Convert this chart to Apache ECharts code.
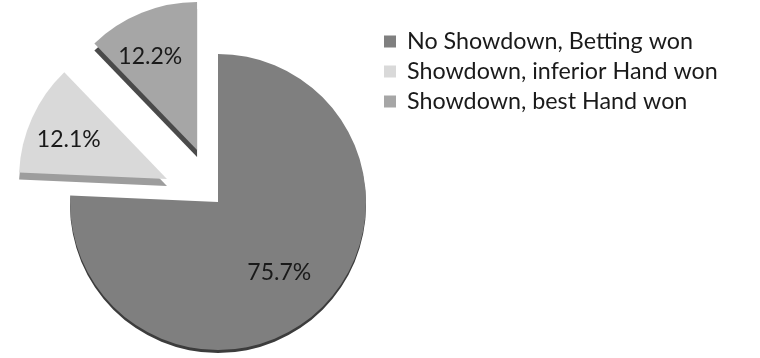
<!DOCTYPE html>
<html>
<head>
<meta charset="utf-8">
<script src="https://cdn.jsdelivr.net/npm/echarts@6/dist/echarts.min.js"></script>
<style>
  html, body { margin: 0; padding: 0; background: #ffffff; }
  #chart { width: 760px; height: 358px; }
</style>
</head>
<body>
<div id="chart"></div>
<script>
// Hand outcomes (share of pots, %)
const categories = ['No Showdown, Betting won', 'Showdown, inferior Hand won', 'Showdown, best Hand won'];
const shares = [75.7, 12.1, 12.2];
const exploded = [false, true, true];

const sliceColors = ['#7f7f7f', '#d9d9d9', '#a6a6a6'];
const sideColors = ['#3c3c3c', '#9d9d9d', '#4a4a4a'];
const sideDepth = [3, 7, 7];
// nudges that move each percentage label outward from the default mid-radius spot
const labelNudge = [[8, 15], [-28, -8], [-18, -22]];

const FONT = 'Lato, "Open Sans", sans-serif';

const chart = echarts.init(document.getElementById('chart'), null, { renderer: 'canvas' });

chart.setOption({
  animation: false,
  backgroundColor: '#ffffff',
  legend: {
    orient: 'vertical',
    left: 379,
    top: 25,
    itemWidth: 12,
    itemHeight: 12,
    itemGap: 7,
    icon: 'rect',
    selectedMode: false,
    textStyle: { fontFamily: FONT, fontSize: 23.3, color: '#1a1a1a', padding: [0, 0, 0, 6] },
    data: categories
  },
  series: [{
    type: 'pie',
    center: [218, 202],
    radius: 148,
    startAngle: 90,
    clockwise: true,
    selectedMode: 'multiple',
    selectedOffset: 56,
    avoidLabelOverlap: false,
    silent: true,
    label: {
      show: true,
      position: 'inner',
      fontFamily: FONT,
      fontSize: 23,
      color: '#1a1a1a',
      formatter: p => p.value.toFixed(1) + '%'
    },
    labelLine: { show: false },
    labelLayout: p => ({ dx: labelNudge[p.dataIndex][0], dy: labelNudge[p.dataIndex][1] }),
    data: categories.map((name, i) => ({
      name: name,
      value: shares[i],
      selected: exploded[i],
      itemStyle: {
        color: sliceColors[i],
        borderWidth: 0,
        shadowColor: sideColors[i],
        shadowBlur: 0,
        shadowOffsetX: 0,
        shadowOffsetY: sideDepth[i]
      },
      select: {
        itemStyle: {
          color: sliceColors[i],
          borderWidth: 0,
          shadowColor: sideColors[i],
          shadowBlur: 0,
          shadowOffsetX: 0,
          shadowOffsetY: sideDepth[i]
        }
      }
    }))
  }]
});
</script>
</body>
</html>
